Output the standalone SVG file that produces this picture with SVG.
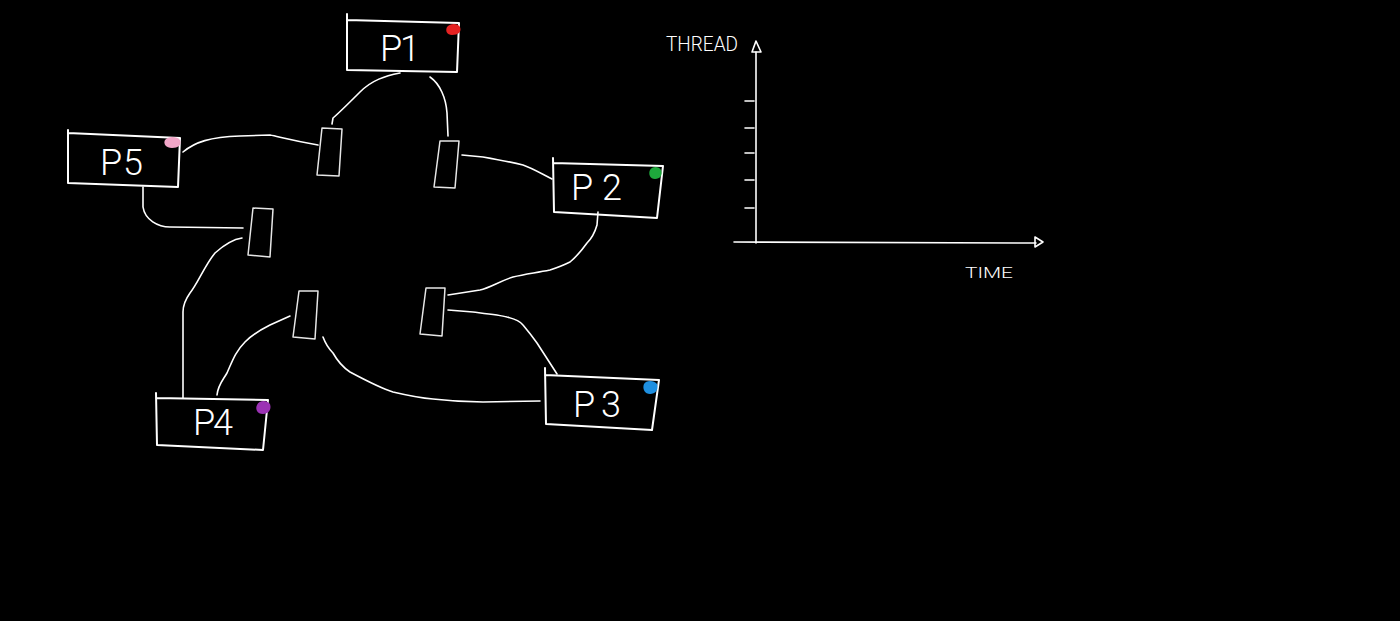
<svg xmlns="http://www.w3.org/2000/svg" width="1400" height="621" viewBox="0 0 1400 621">
<style>
.bg{fill:#000}
.ln{fill:none;stroke:#ffffff;stroke-width:1.6;stroke-linecap:round;stroke-linejoin:round}
.bx{fill:none;stroke:#ffffff;stroke-width:2;stroke-linecap:round;stroke-linejoin:round}
.fk{fill:none;stroke:#e6e6e6;stroke-width:1.5;stroke-linejoin:round}
.lbl{fill:#ffffff;font-family:Roboto,"Liberation Sans",sans-serif;font-weight:300;font-size:36px}
.ax{fill:#ffffff;font-family:Roboto,"Liberation Sans",sans-serif;font-weight:300}
</style>
<rect class="bg" x="0" y="0" width="1400" height="621"/>

<g id="connectors">
  <path class="ln" d="M400 73 C385 76 372 80 360 92 C350 102 340 112 333 118 L332 124"/>
  <path class="ln" d="M430 77 C440 84 446 98 447 113 L448 136"/>
  <path class="ln" d="M183 152 C195 142 210 137 240 136 L270 135 C280 137 290 140 318 145"/>
  <path class="ln" d="M462 155 L483 157 C500 160 515 163 523 165 C532 168 542 174 552 179"/>
  <path class="ln" d="M143 187 L143 207 C145 220 158 227 170 227 L243 228"/>
  <path class="ln" d="M242 238 C235 239 225 244 215 253 C205 265 198 283 190 293 C185 300 183 305 183 312 L183 398"/>
  <path class="ln" d="M217 395 C218 385 223 380 227 373 C232 362 235 352 245 342 C253 334 262 329 270 325 L290 316"/>
  <path class="ln" d="M323 337 C326 345 330 350 333 353 C338 362 344 368 350 372 C365 380 380 388 393 392 C410 396 420 398 433 399 C450 401 470 402 483 402 L540 401"/>
  <path class="ln" d="M598 212 L597 225 C595 232 592 238 587 243 C582 250 576 257 570 262 C562 266 556 268 550 270 C535 273 525 274 513 277 C500 281 490 288 480 290 L448 295"/>
  <path class="ln" d="M448 310 L473 312 C490 314 500 315 507 317 C515 319 520 321 523 325 C528 331 532 336 537 343 L557 374"/>
</g>

<g id="fork-a"><path class="fk" d="M322 128 L342 129 L339 176 L317 175 Z"/></g>
<g id="fork-b"><path class="fk" d="M440 141 L459 141 L455 188 L434 187 Z"/></g>
<g id="fork-c"><path class="fk" d="M253 208 L273 209 L270 257 L248 255 Z"/></g>
<g id="fork-d"><path class="fk" d="M299 291 L318 291 L315 339 L293 337 Z"/></g>
<g id="fork-e"><path class="fk" d="M426 288 L445 288 L442 336 L420 334 Z"/></g>

<g id="p1">
  <path class="bx" d="M347 14 L347 70 L457 72 L459 23 L347 20"/>
  <path d="M447 27 C450 23 458 23 460 27 C462 32 458 35 452 35 C447 35 445 31 447 27 Z" fill="#e52222"/>
  <text class="lbl" x="380 400" y="61">P1</text>
</g>
<g id="p2">
  <path class="bx" d="M553 158 L554 212 L657 218 L663 166 L553 163"/>
  <path d="M650 170 C652 166 659 166 661 170 C663 175 660 179 655 179 C650 179 648 174 650 170 Z" fill="#1ea83c"/>
  <text class="lbl" x="571 602" y="200">P2</text>
</g>
<g id="p5">
  <path class="bx" d="M68 130 L68 183 L178 187 L180 138 L68 133"/>
  <path d="M165 140 C168 136 177 136 180 140 C182 145 178 148 172 148 C166 148 163 144 165 140 Z" fill="#f2a6c8"/>
  <text class="lbl" x="100 123" y="175">P5</text>
</g>
<g id="p4">
  <path class="bx" d="M156 393 L157 445 L263 450 L268 400 L156 398"/>
  <path d="M257 405 C259 400 267 400 270 404 C272 410 268 414 263 414 C257 414 255 409 257 405 Z" fill="#9b32b4"/>
  <text class="lbl" x="193 213" y="435">P4</text>
</g>
<g id="p3">
  <path class="bx" d="M545 368 L546 424 L652 430 L659 380 L545 375"/>
  <path d="M644 384 C646 380 654 380 657 384 C659 390 655 394 650 394 C645 394 642 389 644 384 Z" fill="#1e8fe0"/>
  <text class="lbl" x="573 601" y="417">P3</text>
</g>

<g id="chart">
  <path class="ln" d="M756 52 L756 243"/>
  <path class="ln" d="M734 242 L1036 243"/>
  <path class="ln" d="M756 41 L752 52 L761 52 Z"/>
  <path class="ln" d="M1043 242 L1035 237 L1035 247 Z"/>
  <path class="ln" d="M745 101 L754 101 M745 128 L754 128 M745 153 L754 153 M745 180 L754 180 M745 208 L754 208"/>
  <text class="ax" x="666" y="51" font-size="20" textLength="72" lengthAdjust="spacingAndGlyphs">THREAD</text>
  <text class="ax" x="965" y="278" font-size="15" textLength="48" lengthAdjust="spacingAndGlyphs">TIME</text>
</g>
</svg>
